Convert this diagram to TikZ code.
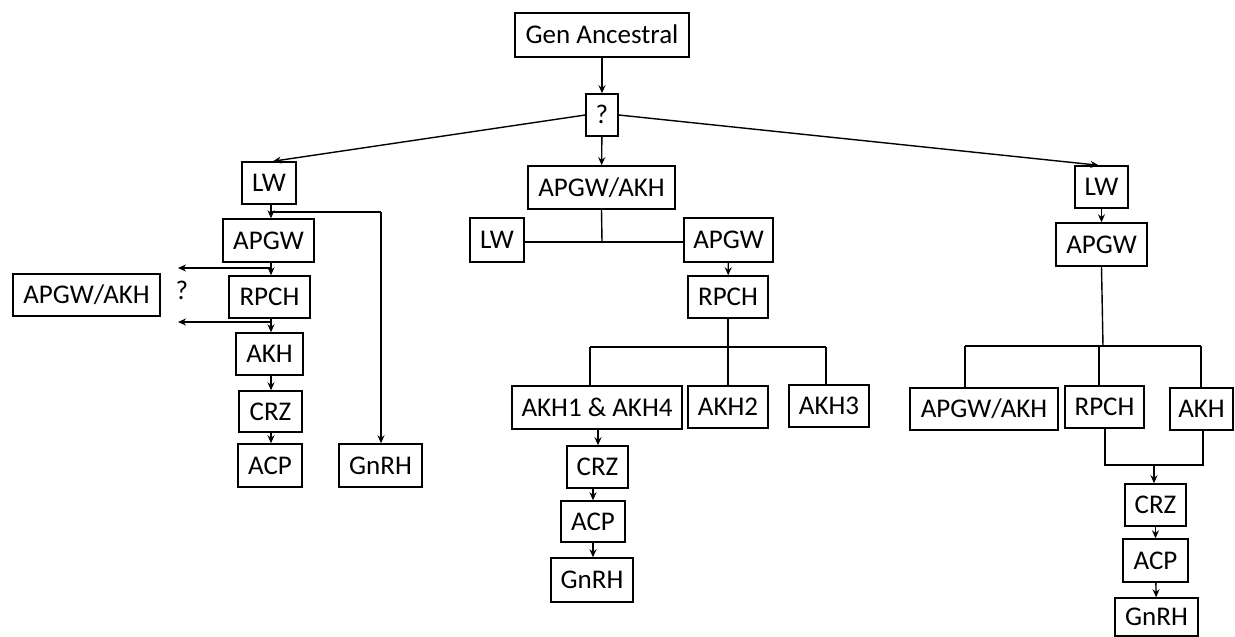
\documentclass[tikz,border=0pt]{standalone}
\usepackage{fontspec}
\setmainfont{Carlito}
\usetikzlibrary{arrows.meta}
\begin{document}
\begin{tikzpicture}[x=1pt,y=-1pt,
  box/.style={draw=black,line width=1.5pt,inner sep=0pt,align=center,
    font=\fontsize{27}{30}\selectfont,text height=17.4pt,text depth=0pt},
  arr/.style={line width=1.4pt,-{Stealth[length=8pt,width=7pt]}},
  ln/.style={line width=1.4pt}]
\useasboundingbox[fill=white] (0,0) rectangle (1235,637);
% top
\node[box,minimum width=174pt,minimum height=44pt] (gen) at (602,35) {Gen Ancestral};
\node[box,minimum width=32pt,minimum height=42pt] (q) at (602,115) {?};
% middle
\node[box,minimum width=147pt,minimum height=43pt] (mAA) at (601.5,187.5) {APGW/AKH};
\node[box,minimum width=54pt,minimum height=44pt] (mLW) at (497,240) {LW};
\node[box,minimum width=89pt,minimum height=44pt] (mAPGW) at (728.5,240) {APGW};
\node[box,minimum width=80pt,minimum height=42pt] (mRPCH) at (728,297) {RPCH};
\node[box,minimum width=170pt,minimum height=43pt] (mAKHa) at (597,407.5) {AKH1 \& AKH4};
\node[box,minimum width=80pt,minimum height=42pt] (mAKHb) at (728,407) {AKH2};
\node[box,minimum width=80pt,minimum height=42pt] (mAKHc) at (829,406) {AKH3};
\node[box,minimum width=61pt,minimum height=42pt] (mCRZ) at (597.5,467) {CRZ};
\node[box,minimum width=64pt,minimum height=41pt] (mACP) at (593,521.5) {ACP};
\node[box,minimum width=82pt,minimum height=44pt] (mGnRH) at (592,580) {GnRH};
% left
\node[box,minimum width=54pt,minimum height=42pt] (lLW) at (269,183) {LW};
\node[box,minimum width=91pt,minimum height=43pt] (lAPGW) at (268.5,240.5) {APGW};
\node[box,minimum width=81pt,minimum height=42pt] (lRPCH) at (269.5,297) {RPCH};
\node[box,minimum width=147pt,minimum height=42pt] (lAA) at (86.5,295) {APGW/AKH};
\node[font=\fontsize{27}{30}\selectfont,inner sep=0pt] (lq) at (182,290) {?};
\node[box,minimum width=67pt,minimum height=42pt] (lAKH) at (269.5,354) {AKH};
\node[box,minimum width=63pt,minimum height=41pt] (lCRZ) at (270.5,411.5) {CRZ};
\node[box,minimum width=64pt,minimum height=43pt] (lACP) at (270,465.5) {ACP};
\node[box,minimum width=83pt,minimum height=43pt] (lGnRH) at (380.5,465.5) {GnRH};
% right
\node[box,minimum width=53pt,minimum height=42pt] (rLW) at (1101.5,187) {LW};
\node[box,minimum width=91pt,minimum height=43pt] (rAPGW) at (1101.5,244.5) {APGW};
\node[box,minimum width=148pt,minimum height=42pt] (rAA) at (984,409) {APGW/AKH};
\node[box,minimum width=79pt,minimum height=42pt] (rRPCH) at (1104.5,407) {RPCH};
\node[box,minimum width=63pt,minimum height=42pt] (rAKH) at (1201.5,409) {AKH};
\node[box,minimum width=61pt,minimum height=42pt] (rCRZ) at (1155.5,505) {CRZ};
\node[box,minimum width=65pt,minimum height=43pt] (rACP) at (1155.5,560.5) {ACP};
\node[box,minimum width=83pt,minimum height=38pt] (rGnRH) at (1156.5,617) {GnRH};

% top connectors
\draw[arr] (gen) -- (q);
\draw[arr] (q.west) -- ([xshift=4pt]lLW.north);
\draw[arr] (q.east) -- ([xshift=-3pt]rLW.north);
\draw[arr] (q) -- (mAA);

% middle connectors
\coordinate (mJ1) at (602,242);
\draw[ln] (mAA.south) -- (mJ1);
\draw[ln] (mLW.east |- mJ1) -- (mAPGW.west |- mJ1);
\draw[arr] (mAPGW) -- (mRPCH);
\coordinate (mJ2) at (728,347);
\coordinate (mJa) at (590,347);
\coordinate (mJc) at (826,347);
\draw[ln] (mRPCH.south) -- (mJ2);
\draw[ln] (mJa) -- (mJc);
\draw[ln] (mJa) -- (mJa |- mAKHa.north);
\draw[ln] (mJ2) -- (mAKHb.north);
\draw[ln] (mJc) -- (mJc |- mAKHc.north);
\draw[arr] ([xshift=1pt]mAKHa.south) -- ([xshift=1pt]mAKHa.south |- mCRZ.north);
\draw[arr] (mACP.north |- mCRZ.south) -- (mACP.north);
\draw[arr] (mACP) -- (mGnRH.north -| mACP);

% left connectors
\coordinate (lX) at (271,0);
\draw[arr] (lX |- lLW.south) -- (lX |- lAPGW.north);
\coordinate (lJ1) at (271,212);
\coordinate (lJ2) at (381,212);
\draw[ln] (lJ1) -- (lJ2);
\draw[arr] (lJ2) -- (lGnRH.north -| lJ2);
\draw[arr] (lX |- lAPGW.south) -- (lX |- lRPCH.north);
\coordinate (lB1) at (271,268);
\coordinate (lE1) at (178,268);
\draw[arr] (lB1) -- (lE1);
\draw[arr] (lX |- lRPCH.south) -- (lX |- lAKH.north);
\coordinate (lB2) at (271,322);
\coordinate (lE2) at (178,322);
\draw[arr] (lB2) -- (lE2);
\draw[arr] (lX |- lAKH.south) -- (lX |- lCRZ.north);
\draw[arr] (lX |- lCRZ.south) -- (lX |- lACP.north);

% right connectors
\draw[arr] (rLW) -- (rAPGW.north -| rLW);
\coordinate (rJ) at (1103,346);
\coordinate (rJa) at (965,346);
\coordinate (rJc) at (1201,346);
\coordinate (rJb) at (1099,346);
\draw[ln] (rAPGW.south) -- (rJ);
\draw[ln] (rJa) -- (rJc);
\draw[ln] (rJa) -- (rJa |- rAA.north);
\draw[ln] (rJb) -- (rJb |- rRPCH.north);
\draw[ln] (rJc) -- (rJc |- rAKH.north);
\coordinate (rK1) at (1105,465);
\coordinate (rK2) at (1203,465);
\coordinate (rK) at (1154,465);
\draw[ln] (rK1 |- rRPCH.south) -- (rK1) -- (rK2) -- (rK2 |- rAKH.south);
\draw[arr] (rK) -- (rK |- rCRZ.north);
\draw[arr] (rCRZ) -- (rACP);
\draw[arr] (rACP) -- (rGnRH);
\end{tikzpicture}
\end{document}
